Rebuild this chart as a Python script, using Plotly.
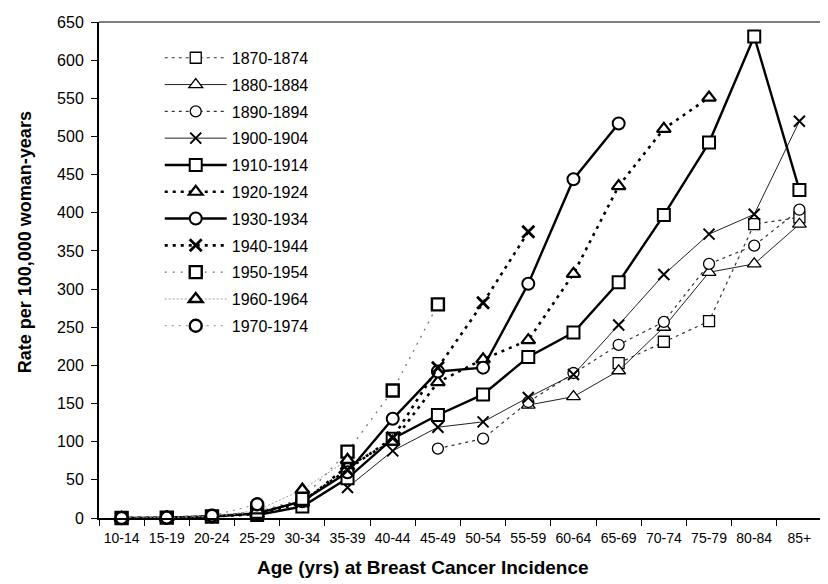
import plotly.graph_objects as go

ages = ['10-14', '15-19', '20-24', '25-29', '30-34', '35-39', '40-44', '45-49',
        '50-54', '55-59', '60-64', '65-69', '70-74', '75-79', '80-84', '85+']

N = None
c1870 = [N, N, N, N, N, N, N, N, N, N, N, 203, 231, 258, 385, 394]
c1880 = [N, N, N, N, N, N, N, N, N, 148, 159, 193, 250, 322, 333, 385]
c1890 = [N, N, N, N, N, N, N, 91, 104, 152, 190, 227, 257, 333, 357, 404]
c1900 = [N, N, N, N, N, 40, 88, 119, 126, 158, 188, 253, 319, 372, 398, 520]
c1910 = [N, N, N, 4, 15, 52, 104, 135, 162, 211, 243, 309, 397, 492, 631, 430]
c1920 = [N, 0.5, 2, 5, 20, 68, 100, 178, 208, 233, 320, 435, 510, 551, N, N]
c1930 = [0, 0.5, 2, 6, 22, 60, 130, 192, 197, 307, 444, 517, N, N, N, N]
c1940 = [0, 0.5, 2, 7, 22, 63, 105, 197, 282, 375, N, N, N, N, N, N]
c1950 = [0, 0.5, 2, 8, 25, 87, 167, 280, N, N, N, N, N, N, N, N]
c1960 = [0, 0.5, 2, 10, 37, 76, N, N, N, N, N, N, N, N, N, N]
c1970 = [0, 0.5, 3, 18, N, N, N, N, N, N, N, N, N, N, N, N]

series_names = ['1870-1874', '1880-1884', '1890-1894', '1900-1904', '1910-1914',
                '1920-1924', '1930-1934', '1940-1944', '1950-1954', '1960-1964',
                '1970-1974']
series_values = [c1870, c1880, c1890, c1900, c1910, c1920, c1930, c1940, c1950,
                 c1960, c1970]

# style: (symbol, marker size, marker line width, line color, line width, dash)
styles = [
    ('square', 11, 1.3, '#333333', 1.2, '3px,4px'),
    ('triangle-up', 12, 1.3, '#222222', 1.0, 'solid'),
    ('circle', 11, 1.3, '#333333', 1.2, '3px,4px'),
    ('x-thin', 11, 2.0, '#222222', 1.0, 'solid'),
    ('square', 12, 2.0, '#000000', 2.4, 'solid'),
    ('triangle-up', 12, 2.2, '#000000', 2.6, '3px,5px'),
    ('circle', 12, 2.0, '#000000', 2.4, 'solid'),
    ('x-thin', 12, 2.8, '#000000', 2.6, '3px,5px'),
    ('square', 12, 2.4, '#777777', 1.3, '2px,6px'),
    ('triangle-up', 12, 2.4, '#888888', 0.8, '2px,2px'),
    ('circle', 12, 2.4, '#888888', 1.1, '2px,5px'),
]

fig = go.Figure()
for name, vals, st in zip(series_names, series_values, styles):
    sym, msize, mlw, lcol, lw, dash = st
    fig.add_trace(go.Scatter(
        x=ages, y=vals, name=name, mode='lines+markers', legendgroup=name,
        connectgaps=False, cliponaxis=False,
        line=dict(color=lcol, width=lw, dash=dash),
        marker=dict(symbol=sym, size=msize, color='white',
                    line=dict(color='black', width=mlw)),
    ))

FONT = 'Liberation Sans, Arial, sans-serif'

# the page body adds an 8px margin, so the figure is 8px smaller each way
fig.update_layout(
    width=820, height=576,
    margin=dict(l=91, r=6, t=7, b=66),
    paper_bgcolor='white', plot_bgcolor='white',
    font=dict(family=FONT, color='black'),
    showlegend=True,
    legend=dict(x=0.084, y=0.962, xanchor='left', yanchor='top',
                bgcolor='rgba(0,0,0,0)', font=dict(size=16, family=FONT),
                itemwidth=62, tracegroupgap=3),
    xaxis=dict(type='category', categoryorder='array', categoryarray=ages,
               range=[-0.5, 15.5], showgrid=False, zeroline=False,
               showline=True, linecolor='black', linewidth=2,
               ticks='outside', tickson='boundaries', ticklen=6,
               tickcolor='black', tickwidth=1, ticklabelstandoff=6,
               tickfont=dict(size=14, family=FONT)),
    yaxis=dict(range=[0, 650], dtick=50, showgrid=False, zeroline=False,
               showline=True, linecolor='black', linewidth=2,
               ticks='outside', ticklen=6, tickcolor='black', tickwidth=1,
               ticklabelstandoff=4, ticklabeloverflow='allow',
               tickfont=dict(size=16, family=FONT)),
    shapes=[dict(type='line', xref='paper', yref='paper', x0=0, x1=1, y0=1, y1=1,
                 line=dict(color='black', width=1)),
            dict(type='line', xref='paper', yref='paper', x0=1, x1=1, y0=0, y1=1,
                 line=dict(color='black', width=1))],
    annotations=[
        dict(text='<b>Age (yrs) at Breast Cancer Incidence</b>', xref='paper',
             yref='paper', x=0.4475, y=-0.1, xanchor='center', yanchor='middle',
             showarrow=False, font=dict(size=19, family=FONT)),
        dict(text='<b>Rate per 100,000 woman-years</b>', xref='paper',
             yref='paper', x=-0.103, y=0.555, xanchor='center', yanchor='middle',
             textangle=-90, showarrow=False, font=dict(size=18, family=FONT)),
    ],
)

fig.write_html('out.html')
